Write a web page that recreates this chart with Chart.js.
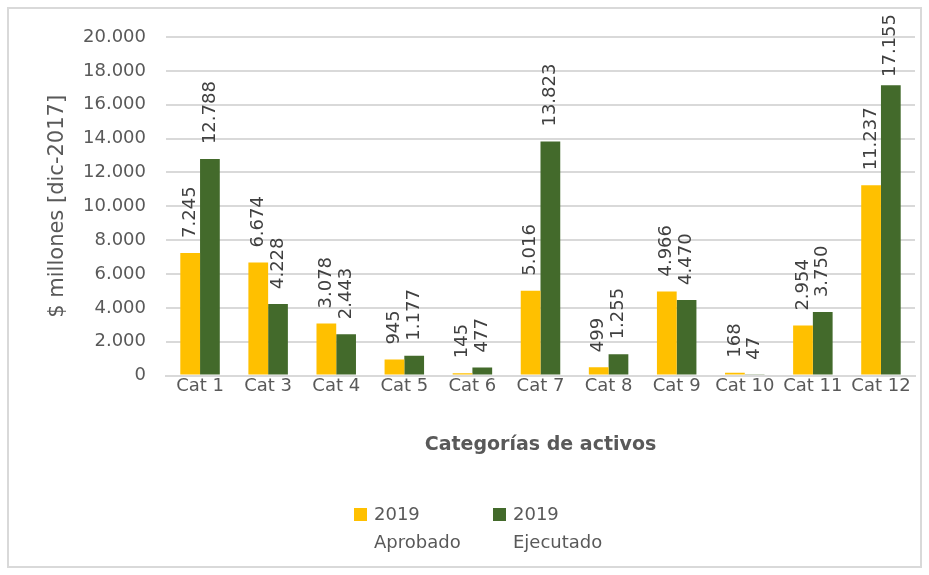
<!DOCTYPE html>
<html lang="es">
<head>
    <meta charset="UTF-8">
    <title>Categorías de activos</title>
    <script src="https://cdn.jsdelivr.net/npm/chart.js@4.4.2/dist/chart.umd.min.js"></script>
    <style>
        html, body { margin: 0; padding: 0; background: #fff; }
        .wrap { position: relative; width: 929px; height: 575px; }
    </style>
</head>
<body>
<div class="wrap"><canvas id="chart"></canvas></div>
<script>
    // --- data ---
    const categories = ['Cat 1', 'Cat 3', 'Cat 4', 'Cat 5', 'Cat 6', 'Cat 7', 'Cat 8', 'Cat 9', 'Cat 10', 'Cat 11', 'Cat 12'];
    const aprobado  = [7245, 6674, 3078, 945, 145, 5016, 499, 4966, 168, 2954, 11237];
    const ejecutado = [12788, 4228, 2443, 1177, 477, 13823, 1255, 4470, 47, 3750, 17155];
    const seriesNames = [['2019', 'Aprobado'], ['2019', 'Ejecutado']];
    const yTitle = '$ millones [dic-2017]';
    const xTitle = 'Categorías de activos';

    const FONT = "'DejaVu Sans', sans-serif";
    const TXT = '#595959';
    const colors = ['#FFC000', '#436A2B'];

    function fmt(v) {
        return String(Math.round(v)).replace(/\B(?=(\d{3})+(?!\d))/g, '.');
    }

    // rotated value labels above each bar (pushed down if they'd leave the frame)
    const barLabels = {
        id: 'barLabels',
        afterDatasetsDraw(chart) {
            const ctx = chart.ctx;
            ctx.save();
            ctx.font = '18px ' + FONT;
            ctx.fillStyle = '#404040';
            ctx.textAlign = 'left';
            ctx.textBaseline = 'middle';
            chart.data.datasets.forEach((ds, i) => {
                chart.getDatasetMeta(i).data.forEach((bar, j) => {
                    const txt = fmt(ds.data[j]);
                    const w = ctx.measureText(txt).width;
                    const y = Math.max(bar.y - 15, 14 + w);
                    ctx.save();
                    ctx.translate(bar.x, y);
                    ctx.rotate(-Math.PI / 2);
                    ctx.fillText(txt, 0, 0);
                    ctx.restore();
                });
            });
            ctx.restore();
        }
    };

    // frame + two-line legend at the bottom
    const frameLegend = {
        id: 'frameLegend',
        afterDraw(chart) {
            const ctx = chart.ctx;
            ctx.save();
            ctx.strokeStyle = '#d9d9d9';
            ctx.lineWidth = 2;
            ctx.strokeRect(8, 8, chart.width - 16, chart.height - 16);

            ctx.font = '18px ' + FONT;
            ctx.textBaseline = 'middle';
            const xs = [354, 493];
            seriesNames.forEach((lines, i) => {
                ctx.fillStyle = colors[i];
                ctx.fillRect(xs[i], 508, 13, 13);
                ctx.fillStyle = TXT;
                ctx.fillText(lines[0], xs[i] + 20, 515);
                ctx.fillText(lines[1], xs[i] + 20, 543);
            });
            ctx.restore();
        }
    };

    new Chart(document.getElementById('chart'), {
        type: 'bar',
        data: {
            labels: categories,
            datasets: [
                { label: seriesNames[0].join(' '), data: aprobado, backgroundColor: colors[0] },
                { label: seriesNames[1].join(' '), data: ejecutado, backgroundColor: colors[1] }
            ]
        },
        options: {
            responsive: true,
            maintainAspectRatio: false,
            animation: false,
            layout: { padding: { top: 37, right: 14, bottom: 119, left: 45 } },
            datasets: { bar: { categoryPercentage: 0.58, barPercentage: 1 } },
            plugins: { legend: { display: false }, tooltip: { enabled: false } },
            scales: {
                x: {
                    grid: { display: false, drawTicks: false },
                    border: { display: true, color: '#d9d9d9', width: 2 },
                    ticks: { color: TXT, font: { size: 18, family: FONT }, padding: 0, maxRotation: 0, autoSkip: false },
                    title: { display: true, text: xTitle, color: TXT, font: { size: 19, weight: 'bold', family: FONT }, padding: { top: 36, bottom: 0 } }
                },
                y: {
                    min: 0, max: 20000,
                    afterFit(scale) { scale.width = 121; },
                    grid: { color: '#d9d9d9', lineWidth: 2, drawTicks: false },
                    border: { display: false },
                    ticks: { stepSize: 2000, color: TXT, font: { size: 18, family: FONT }, padding: 20, callback: v => fmt(v) },
                    title: { display: true, text: yTitle, color: TXT, font: { size: 21, family: FONT }, padding: 0 }
                }
            }
        },
        plugins: [barLabels, frameLegend]
    });
</script>
</body>
</html>
